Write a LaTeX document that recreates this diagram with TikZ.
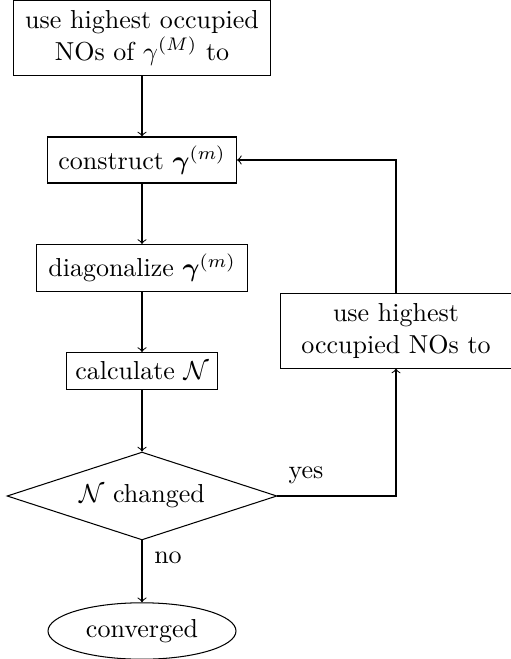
\documentclass[tikz,border=0pt]{standalone}
\usepackage{amsmath,amssymb}
\usetikzlibrary{shapes.geometric}
\begin{document}
\begin{tikzpicture}[x=0.3846pt,y=-0.3846pt,
  box/.style={draw,rectangle,inner sep=0pt,align=center},
  decision/.style={draw,diamond,inner sep=0pt,aspect=3.07,align=center},
  terminal/.style={draw,ellipse,inner sep=0pt,align=center},
  conn/.style={->},
  lbl/.style={inner sep=0pt}]
\useasboundingbox (0,0) rectangle (510,659);
\node[box,minimum width=99.2pt,minimum height=28.5pt] (top) at (142,38) {use highest occupied\\NOs of $\gamma^{(M)}$ to};
\node[box,minimum width=72.7pt,minimum height=17.7pt] (con) at (142,160) {construct $\boldsymbol{\gamma}^{(m)}$};
\node[box,minimum width=80.8pt,minimum height=18.1pt] (diag) at (142,268) {diagonalize $\boldsymbol{\gamma}^{(m)}$};
\node[box,minimum width=58.1pt,minimum height=14.2pt] (calc) at (142,371) {calculate $\mathcal{N}$};
\node[decision,minimum width=103.8pt,minimum height=33.8pt] (dia) at (142,496) {$\mathcal{N}$ changed};
\node[terminal,minimum width=72.3pt,minimum height=21.7pt] (conv) at (142,631) {converged};
\node[box,minimum width=88.5pt,minimum height=28.5pt] (rb) at (396,331) {use highest\\occupied NOs to};
\node[lbl] (yes) at (306,475) {yes};
\node[lbl] (no) at (168,558) {no};
\draw[conn] (top) -- (con);
\draw[conn] (con) -- (diag);
\draw[conn] (diag) -- (calc);
\draw[conn] (calc) -- (dia);
\draw[conn] (dia) -- (conv);
\draw[conn] (dia.east) -| (rb.south);
\draw[conn] (rb.north) |- (con.east);
\end{tikzpicture}
\end{document}
